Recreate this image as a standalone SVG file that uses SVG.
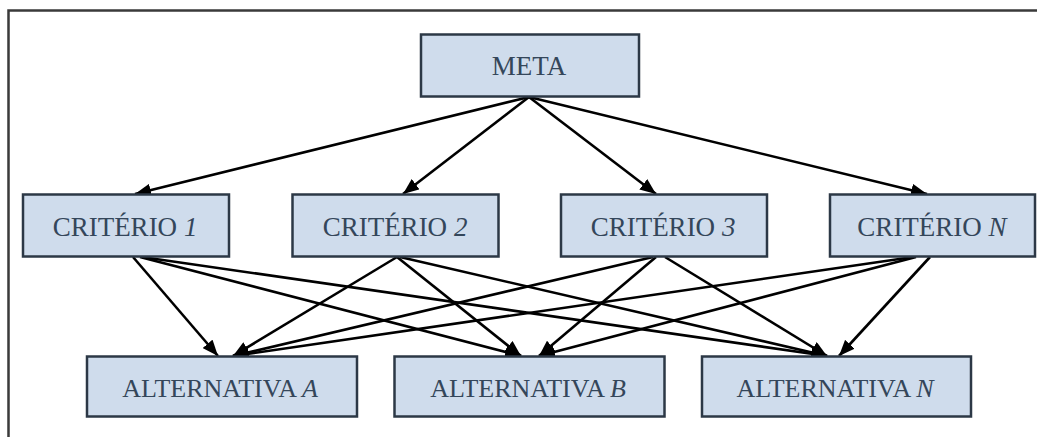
<svg xmlns="http://www.w3.org/2000/svg" width="1037" height="437" viewBox="0 0 1037 437">
<style>
.box{fill:#cfdcec;stroke:#2c3846;stroke-width:2.5}
.t{font-family:"Liberation Serif","Times New Roman",serif;fill:#34465a;text-anchor:middle}
.big{font-size:27px}
.alt{font-size:26px}
.i{font-style:italic}
.c line{stroke:#000;stroke-width:2.6;marker-end:url(#ah)}
</style>
<defs>
<marker id="ah" markerUnits="userSpaceOnUse" markerWidth="16" markerHeight="13" viewBox="0 0 16 13" refX="16" refY="6.5" orient="auto">
<path d="M0,0 L16,6.5 L0,13 Z" fill="#000"/>
</marker>
</defs>
<rect width="1037" height="437" fill="#fff"/>
<path d="M1037,10.5 H8.5 V437" fill="none" stroke="#3a3a3a" stroke-width="2.5"/>
<g class="c" id="connectors">
<line x1="529" y1="97" x2="135" y2="194"/>
<line x1="529" y1="97" x2="403" y2="194"/>
<line x1="529" y1="97" x2="656" y2="194"/>
<line x1="529" y1="97" x2="927" y2="194"/>
<line x1="133" y1="257" x2="218" y2="356"/>
<line x1="140" y1="257" x2="521" y2="356"/>
<line x1="142" y1="257" x2="827" y2="356"/>
<line x1="397" y1="257" x2="233" y2="356"/>
<line x1="397" y1="257" x2="521" y2="356"/>
<line x1="400" y1="257" x2="827" y2="356"/>
<line x1="653" y1="257" x2="233" y2="356"/>
<line x1="656" y1="257" x2="539" y2="356"/>
<line x1="665" y1="257" x2="827" y2="356"/>
<line x1="913" y1="257" x2="233" y2="356"/>
<line x1="916" y1="257" x2="539" y2="356"/>
<line x1="930" y1="257" x2="839" y2="356"/>
</g>
<g id="meta"><rect class="box" x="421" y="34.5" width="218" height="62"/><text class="t big" x="529" y="75">META</text></g>
<g id="c1"><rect class="box" x="23" y="194.5" width="206" height="62"/><text class="t big" x="125" y="236">CRITÉRIO <tspan class="i">1</tspan></text></g>
<g id="c2"><rect class="box" x="292.5" y="194.5" width="206" height="62"/><text class="t big" x="395" y="236">CRITÉRIO <tspan class="i">2</tspan></text></g>
<g id="c3"><rect class="box" x="561" y="194.5" width="206" height="62"/><text class="t big" x="663" y="236">CRITÉRIO <tspan class="i">3</tspan></text></g>
<g id="cn"><rect class="box" x="830" y="194.5" width="205" height="62"/><text class="t big" x="932" y="236">CRITÉRIO <tspan class="i">N</tspan></text></g>
<g id="aa"><rect class="box" x="87" y="356.5" width="270" height="60"/><text class="t alt" x="220" y="397">ALTERNATIVA <tspan class="i">A</tspan></text></g>
<g id="ab"><rect class="box" x="394.5" y="356.5" width="270" height="60"/><text class="t alt" x="528" y="397">ALTERNATIVA <tspan class="i">B</tspan></text></g>
<g id="an"><rect class="box" x="702" y="356.5" width="269" height="60"/><text class="t alt" x="835" y="397">ALTERNATIVA <tspan class="i">N</tspan></text></g>
</svg>
